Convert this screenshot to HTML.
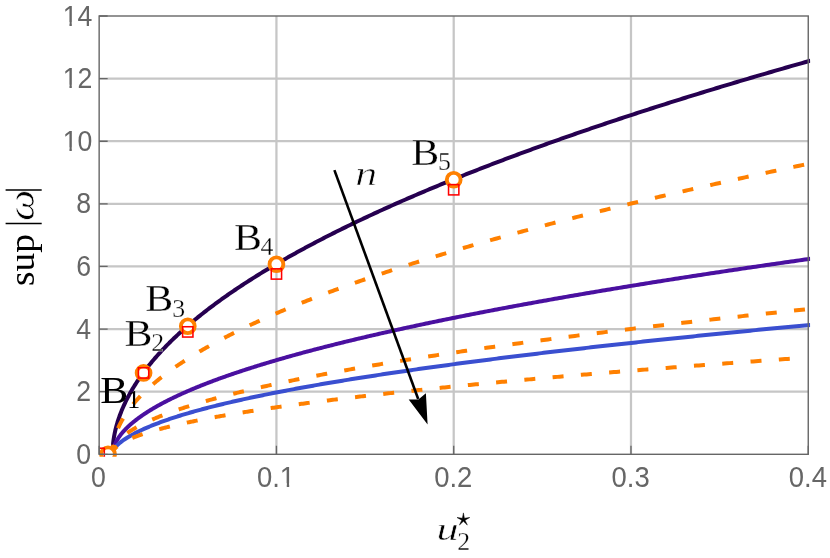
<!DOCTYPE html>
<html><head><meta charset="utf-8"><title>plot</title>
<style>html,body{margin:0;padding:0;background:#fff;}svg{display:block;}text{font-family:"Liberation Sans",sans-serif;}.s{font-family:"Liberation Serif",serif;}</style></head><body>
<svg width="830" height="558" viewBox="0 0 830 558" style="will-change:transform">
<rect width="830" height="558" fill="#fff"/>
<defs><clipPath id="c"><rect x="99.15" y="16.0" width="711.0" height="440.8"/></clipPath></defs>
<path d="M276.43,16.0V454.3M453.70,16.0V454.3M630.98,16.0V454.3" stroke="#c6c6c6" stroke-width="2.25" fill="none"/>
<path d="M99.15,391.69H808.25M99.15,329.07H808.25M99.15,266.46H808.25M99.15,203.84H808.25M99.15,141.23H808.25M99.15,78.61H808.25" stroke="#c6c6c6" stroke-width="2.25" fill="none"/>
<g clip-path="url(#c)" fill="none">
<path d="M112.60,454.30 L112.60,453.51 L112.61,452.72 L112.62,451.94 L112.64,451.15 L112.67,450.36 L112.70,449.57 L112.73,448.79 L112.78,448.00 L112.82,447.21 L112.88,446.42 L112.93,445.63 L113.00,444.85 L113.07,444.06 L113.14,443.27 L113.22,442.48 L113.31,441.70 L113.40,440.96 L113.50,440.23 L113.60,439.50 L113.71,438.77 L113.83,438.03 L113.95,437.29 L114.07,436.55 L114.20,435.81 L114.34,435.06 L114.48,434.32 L114.63,433.57 L114.78,432.82 L114.94,432.07 L115.11,431.32 L115.28,430.56 L115.45,429.81 L115.64,429.05 L115.82,428.29 L116.02,427.53 L116.21,426.77 L116.42,426.01 L116.63,425.25 L116.84,424.49 L117.06,423.72 L117.29,422.96 L117.52,422.19 L117.76,421.43 L118.00,420.66 L118.25,419.89 L118.50,419.12 L118.76,418.35 L119.03,417.58 L119.30,416.81 L119.57,416.03 L119.86,415.26 L120.14,414.49 L120.44,413.71 L120.74,412.93 L121.04,412.16 L121.35,411.38 L121.66,410.60 L121.99,409.82 L122.31,409.04 L122.64,408.26 L122.98,407.48 L123.33,406.70 L123.67,405.92 L124.03,405.13 L124.39,404.35 L124.75,403.57 L125.13,402.78 L125.50,402.00 L125.89,401.21 L126.27,400.42 L126.67,399.64 L127.07,398.85 L127.47,398.06 L127.88,397.28 L128.30,396.49 L128.72,395.70 L129.15,394.91 L129.58,394.12 L130.02,393.33 L130.46,392.54 L130.91,391.75 L131.36,390.96 L131.82,390.17 L132.29,389.37 L132.76,388.58 L133.24,387.79 L133.72,387.00 L134.21,386.21 L134.71,385.41 L135.20,384.62 L135.71,383.83 L136.22,383.03 L136.74,382.24 L137.26,381.45 L137.79,380.65 L138.32,379.86 L138.86,379.07 L139.40,378.27 L139.95,377.48 L140.51,376.68 L141.07,375.89 L141.64,375.09 L142.21,374.30 L142.79,373.51 L143.37,372.71 L143.96,371.92 L144.55,371.12 L145.15,370.33 L145.76,369.53 L146.37,368.74 L146.99,367.94 L147.61,367.15 L148.24,366.35 L148.87,365.56 L149.51,364.76 L150.15,363.97 L150.80,363.17 L151.46,362.38 L152.12,361.58 L152.79,360.79 L153.46,359.99 L154.14,359.20 L154.82,358.41 L155.51,357.61 L156.21,356.82 L156.91,356.02 L157.61,355.23 L158.33,354.43 L159.04,353.64 L159.77,352.84 L160.50,352.05 L161.23,351.26 L161.97,350.46 L162.71,349.67 L163.46,348.87 L164.22,348.08 L164.98,347.29 L165.75,346.49 L166.52,345.70 L167.30,344.90 L168.09,344.11 L168.88,343.32 L169.67,342.52 L170.47,341.73 L171.28,340.94 L172.09,340.14 L172.91,339.35 L173.73,338.56 L174.56,337.76 L175.40,336.97 L176.24,336.18 L177.08,335.38 L177.93,334.59 L178.79,333.80 L179.65,333.01 L180.52,332.21 L181.40,331.42 L182.27,330.63 L183.16,329.84 L184.05,329.04 L184.95,328.25 L185.85,327.46 L186.75,326.67 L187.67,325.87 L188.58,325.08 L189.51,324.29 L190.44,323.50 L191.37,322.70 L192.31,321.91 L193.26,321.12 L194.21,320.33 L195.17,319.54 L196.13,318.74 L197.10,317.95 L198.07,317.16 L199.05,316.37 L200.04,315.58 L201.03,314.79 L202.03,313.99 L203.03,313.20 L204.04,312.41 L205.05,311.62 L206.07,310.83 L207.09,310.04 L208.12,309.24 L209.16,308.45 L210.20,307.66 L211.25,306.87 L212.30,306.08 L213.36,305.29 L214.42,304.50 L215.49,303.71 L216.56,302.91 L217.64,302.12 L218.73,301.33 L219.82,300.54 L220.92,299.75 L222.02,298.96 L223.13,298.17 L224.24,297.38 L225.36,296.59 L226.49,295.80 L227.62,295.01 L228.75,294.21 L229.89,293.42 L231.04,292.63 L232.19,291.84 L233.35,291.05 L234.52,290.26 L235.69,289.47 L236.86,288.68 L238.04,287.89 L239.23,287.10 L240.42,286.31 L241.62,285.52 L242.82,284.73 L244.03,283.94 L245.24,283.15 L246.46,282.36 L247.69,281.57 L248.92,280.78 L250.15,279.99 L251.40,279.20 L252.64,278.41 L253.90,277.62 L255.16,276.82 L256.42,276.03 L257.69,275.24 L258.97,274.45 L260.25,273.66 L261.53,272.87 L262.83,272.08 L264.12,271.29 L265.43,270.50 L266.74,269.71 L268.05,268.92 L269.37,268.13 L270.70,267.34 L272.03,266.55 L273.37,265.76 L274.71,264.97 L276.06,264.18 L277.41,263.39 L278.77,262.61 L280.13,261.82 L281.50,261.03 L282.88,260.24 L284.26,259.45 L285.65,258.66 L287.04,257.87 L288.44,257.08 L289.84,256.29 L291.25,255.50 L292.67,254.71 L294.09,253.92 L295.52,253.13 L296.95,252.34 L298.38,251.55 L299.83,250.76 L301.28,249.97 L302.73,249.18 L304.19,248.39 L305.66,247.60 L307.13,246.81 L308.60,246.02 L310.09,245.23 L311.57,244.44 L313.07,243.65 L314.57,242.86 L316.07,242.07 L317.58,241.29 L319.10,240.50 L320.62,239.71 L322.14,238.92 L323.68,238.13 L325.21,237.34 L326.76,236.55 L328.31,235.76 L329.86,234.97 L331.42,234.18 L332.99,233.39 L334.56,232.60 L336.13,231.81 L337.72,231.02 L339.31,230.23 L340.90,229.45 L342.50,228.66 L344.10,227.87 L345.71,227.08 L347.33,226.29 L348.95,225.50 L350.58,224.71 L352.21,223.92 L353.85,223.13 L355.49,222.34 L357.14,221.55 L358.80,220.76 L360.46,219.98 L362.13,219.19 L363.80,218.40 L365.48,217.61 L367.16,216.82 L368.85,216.03 L370.54,215.24 L372.24,214.45 L373.95,213.66 L375.66,212.87 L377.37,212.08 L379.10,211.30 L380.82,210.51 L382.56,209.72 L384.30,208.93 L386.04,208.14 L387.79,207.35 L389.55,206.56 L391.31,205.77 L393.07,204.98 L394.85,204.19 L396.62,203.41 L398.41,202.62 L400.20,201.83 L401.99,201.04 L403.79,200.25 L405.60,199.46 L407.41,198.67 L409.23,197.88 L411.05,197.09 L412.88,196.30 L414.71,195.52 L416.55,194.73 L418.39,193.94 L420.25,193.15 L422.10,192.36 L423.96,191.57 L425.83,190.78 L427.70,189.99 L429.58,189.21 L431.47,188.42 L433.36,187.63 L435.25,186.84 L437.15,186.05 L439.06,185.26 L440.97,184.47 L442.89,183.68 L444.81,182.89 L446.74,182.11 L448.67,181.32 L450.61,180.53 L452.56,179.74 L454.51,178.95 L456.47,178.16 L458.43,177.37 L460.40,176.58 L462.37,175.80 L464.35,175.01 L466.33,174.22 L468.32,173.43 L470.32,172.64 L472.32,171.85 L474.33,171.06 L476.34,170.28 L478.36,169.49 L480.38,168.70 L482.41,167.91 L484.44,167.12 L486.48,166.33 L488.53,165.54 L490.58,164.75 L492.64,163.97 L494.70,163.18 L496.77,162.39 L498.84,161.60 L500.92,160.81 L503.01,160.02 L505.10,159.23 L507.19,158.45 L509.30,157.66 L511.40,156.87 L513.52,156.08 L515.63,155.29 L517.76,154.50 L519.89,153.71 L522.02,152.93 L524.16,152.14 L526.31,151.35 L528.46,150.56 L530.62,149.77 L532.78,148.98 L534.95,148.19 L537.13,147.41 L539.31,146.62 L541.49,145.83 L543.68,145.04 L545.88,144.25 L548.08,143.46 L550.29,142.67 L552.50,141.89 L554.72,141.10 L556.95,140.31 L559.18,139.52 L561.41,138.73 L563.65,137.94 L565.90,137.15 L568.15,136.37 L570.41,135.58 L572.67,134.79 L574.94,134.00 L577.22,133.21 L579.50,132.42 L581.78,131.64 L584.08,130.85 L586.37,130.06 L588.68,129.27 L590.98,128.48 L593.30,127.69 L595.62,126.90 L597.94,126.12 L600.27,125.33 L602.61,124.54 L604.95,123.75 L607.30,122.96 L609.65,122.17 L612.01,121.39 L614.37,120.60 L616.74,119.81 L619.12,119.02 L621.50,118.23 L623.89,117.44 L626.28,116.65 L628.68,115.87 L631.08,115.08 L633.49,114.29 L635.90,113.50 L638.32,112.71 L640.75,111.92 L643.18,111.14 L645.61,110.35 L648.06,109.56 L650.50,108.77 L652.96,107.98 L655.42,107.19 L657.88,106.41 L660.35,105.62 L662.83,104.83 L665.31,104.04 L667.80,103.25 L670.29,102.46 L672.79,101.68 L675.29,100.89 L677.80,100.10 L680.31,99.31 L682.83,98.52 L685.36,97.73 L687.89,96.95 L690.43,96.16 L692.97,95.37 L695.52,94.58 L698.07,93.79 L700.63,93.00 L703.20,92.22 L705.77,91.43 L708.35,90.64 L710.93,89.85 L713.51,89.06 L716.11,88.27 L718.71,87.49 L721.31,86.70 L723.92,85.91 L726.53,85.12 L729.16,84.33 L731.78,83.54 L734.41,82.76 L737.05,81.97 L739.69,81.18 L742.34,80.39 L745.00,79.60 L747.66,78.81 L750.32,78.03 L752.99,77.24 L755.67,76.45 L758.35,75.66 L761.04,74.87 L763.73,74.09 L766.43,73.30 L769.14,72.51 L771.85,71.72 L774.56,70.93 L777.29,70.14 L780.01,69.36 L782.75,68.57 L785.48,67.78 L788.23,66.99 L790.98,66.20 L793.73,65.41 L796.49,64.63 L799.26,63.84 L802.03,63.05 L804.81,62.26 L807.59,61.47 L810.38,60.69" stroke="#260050" stroke-width="4.0"/>
<path d="M112.97,454.30 L112.97,453.91 L112.98,453.52 L112.99,453.13 L113.01,452.73 L113.04,452.34 L113.07,451.95 L113.10,451.56 L113.15,451.17 L113.19,450.78 L113.25,450.38 L113.31,449.99 L113.37,449.63 L113.44,449.28 L113.52,448.93 L113.60,448.58 L113.68,448.23 L113.77,447.87 L113.87,447.52 L113.98,447.16 L114.08,446.80 L114.20,446.44 L114.32,446.08 L114.44,445.72 L114.58,445.35 L114.71,444.99 L114.85,444.63 L115.00,444.26 L115.16,443.90 L115.31,443.53 L115.48,443.16 L115.65,442.80 L115.82,442.43 L116.01,442.06 L116.19,441.69 L116.39,441.32 L116.58,440.95 L116.79,440.58 L117.00,440.21 L117.21,439.84 L117.43,439.47 L117.66,439.09 L117.89,438.72 L118.13,438.35 L118.37,437.97 L118.62,437.60 L118.87,437.22 L119.13,436.85 L119.40,436.47 L119.67,436.10 L119.94,435.72 L120.22,435.34 L120.51,434.96 L120.80,434.59 L121.10,434.21 L121.41,433.83 L121.72,433.45 L122.03,433.07 L122.35,432.69 L122.68,432.31 L123.01,431.93 L123.35,431.55 L123.69,431.16 L124.04,430.78 L124.39,430.40 L124.75,430.02 L125.12,429.63 L125.49,429.25 L125.87,428.86 L126.25,428.48 L126.64,428.09 L127.03,427.71 L127.43,427.32 L127.83,426.94 L128.24,426.55 L128.66,426.16 L129.08,425.78 L129.51,425.39 L129.94,425.00 L130.38,424.61 L130.82,424.22 L131.27,423.83 L131.73,423.45 L132.19,423.06 L132.65,422.67 L133.12,422.28 L133.60,421.89 L134.08,421.49 L134.57,421.10 L135.06,420.71 L135.56,420.32 L136.07,419.93 L136.58,419.54 L137.10,419.15 L137.62,418.75 L138.14,418.36 L138.68,417.97 L139.22,417.57 L139.76,417.18 L140.31,416.79 L140.86,416.39 L141.43,416.00 L141.99,415.61 L142.56,415.21 L143.14,414.82 L143.72,414.42 L144.31,414.03 L144.91,413.63 L145.51,413.24 L146.11,412.84 L146.72,412.45 L147.34,412.05 L147.96,411.66 L148.59,411.26 L149.22,410.87 L149.86,410.47 L150.51,410.07 L151.16,409.68 L151.81,409.28 L152.47,408.88 L153.14,408.49 L153.81,408.09 L154.49,407.70 L155.17,407.30 L155.86,406.90 L156.56,406.51 L157.26,406.11 L157.96,405.71 L158.67,405.32 L159.39,404.92 L160.11,404.52 L160.84,404.13 L161.57,403.73 L162.31,403.33 L163.06,402.93 L163.81,402.54 L164.57,402.14 L165.33,401.74 L166.09,401.35 L166.87,400.95 L167.65,400.55 L168.43,400.15 L169.22,399.76 L170.01,399.36 L170.81,398.96 L171.62,398.57 L172.43,398.17 L173.25,397.77 L174.07,397.38 L174.90,396.98 L175.74,396.58 L176.57,396.18 L177.42,395.79 L178.27,395.39 L179.13,394.99 L179.99,394.60 L180.86,394.20 L181.73,393.80 L182.61,393.41 L183.49,393.01 L184.38,392.61 L185.28,392.21 L186.18,391.82 L187.09,391.42 L188.00,391.02 L188.92,390.63 L189.84,390.23 L190.77,389.83 L191.70,389.44 L192.64,389.04 L193.59,388.64 L194.54,388.25 L195.50,387.85 L196.46,387.46 L197.43,387.06 L198.40,386.66 L199.38,386.27 L200.36,385.87 L201.36,385.47 L202.35,385.08 L203.35,384.68 L204.36,384.29 L205.37,383.89 L206.39,383.49 L207.41,383.10 L208.44,382.70 L209.48,382.30 L210.52,381.91 L211.57,381.51 L212.62,381.12 L213.67,380.72 L214.74,380.33 L215.81,379.93 L216.88,379.53 L217.96,379.14 L219.04,378.74 L220.13,378.35 L221.23,377.95 L222.33,377.56 L223.44,377.16 L224.55,376.76 L225.67,376.37 L226.80,375.97 L227.93,375.58 L229.06,375.18 L230.20,374.79 L231.35,374.39 L232.50,374.00 L233.66,373.60 L234.82,373.21 L235.99,372.81 L237.17,372.42 L238.35,372.02 L239.53,371.63 L240.72,371.23 L241.92,370.84 L243.12,370.44 L244.33,370.05 L245.54,369.65 L246.76,369.26 L247.99,368.86 L249.22,368.47 L250.45,368.07 L251.69,367.68 L252.94,367.28 L254.19,366.89 L255.45,366.49 L256.72,366.10 L257.98,365.70 L259.26,365.31 L260.54,364.91 L261.83,364.52 L263.12,364.13 L264.41,363.73 L265.72,363.34 L267.03,362.94 L268.34,362.55 L269.66,362.15 L270.98,361.76 L272.32,361.36 L273.65,360.97 L274.99,360.58 L276.34,360.18 L277.69,359.79 L279.05,359.39 L280.42,359.00 L281.79,358.60 L283.16,358.21 L284.54,357.82 L285.93,357.42 L287.32,357.03 L288.72,356.63 L290.12,356.24 L291.53,355.85 L292.94,355.45 L294.36,355.06 L295.79,354.66 L297.22,354.27 L298.66,353.88 L300.10,353.48 L301.55,353.09 L303.00,352.69 L304.46,352.30 L305.92,351.91 L307.39,351.51 L308.87,351.12 L310.35,350.72 L311.84,350.33 L313.33,349.94 L314.83,349.54 L316.33,349.15 L317.84,348.76 L319.36,348.36 L320.88,347.97 L322.40,347.57 L323.93,347.18 L325.47,346.79 L327.01,346.39 L328.56,346.00 L330.12,345.61 L331.68,345.21 L333.24,344.82 L334.81,344.43 L336.39,344.03 L337.97,343.64 L339.56,343.24 L341.15,342.85 L342.75,342.46 L344.35,342.06 L345.96,341.67 L347.58,341.28 L349.20,340.88 L350.82,340.49 L352.46,340.10 L354.09,339.70 L355.74,339.31 L357.39,338.92 L359.04,338.52 L360.70,338.13 L362.36,337.74 L364.04,337.34 L365.71,336.95 L367.39,336.56 L369.08,336.16 L370.78,335.77 L372.47,335.38 L374.18,334.98 L375.89,334.59 L377.60,334.20 L379.33,333.80 L381.05,333.41 L382.78,333.02 L384.52,332.62 L386.27,332.23 L388.02,331.84 L389.77,331.44 L391.53,331.05 L393.30,330.66 L395.07,330.26 L396.84,329.87 L398.63,329.48 L400.42,329.09 L402.21,328.69 L404.01,328.30 L405.81,327.91 L407.62,327.51 L409.44,327.12 L411.26,326.73 L413.09,326.33 L414.92,325.94 L416.76,325.55 L418.60,325.15 L420.45,324.76 L422.31,324.37 L424.17,323.98 L426.04,323.58 L427.91,323.19 L429.78,322.80 L431.67,322.40 L433.56,322.01 L435.45,321.62 L437.35,321.22 L439.26,320.83 L441.17,320.44 L443.08,320.05 L445.00,319.65 L446.93,319.26 L448.87,318.87 L450.80,318.47 L452.75,318.08 L454.70,317.69 L456.65,317.30 L458.62,316.90 L460.58,316.51 L462.55,316.12 L464.53,315.72 L466.52,315.33 L468.50,314.94 L470.50,314.55 L472.50,314.15 L474.51,313.76 L476.52,313.37 L478.53,312.97 L480.56,312.58 L482.58,312.19 L484.62,311.80 L486.66,311.40 L488.70,311.01 L490.75,310.62 L492.81,310.22 L494.87,309.83 L496.94,309.44 L499.01,309.05 L501.09,308.65 L503.17,308.26 L505.26,307.87 L507.36,307.48 L509.46,307.08 L511.56,306.69 L513.67,306.30 L515.79,305.90 L517.91,305.51 L520.04,305.12 L522.18,304.73 L524.32,304.33 L526.46,303.94 L528.61,303.55 L530.77,303.16 L532.93,302.76 L535.10,302.37 L537.27,301.98 L539.45,301.59 L541.63,301.19 L543.82,300.80 L546.02,300.41 L548.22,300.02 L550.43,299.62 L552.64,299.23 L554.86,298.84 L557.08,298.44 L559.31,298.05 L561.54,297.66 L563.78,297.27 L566.03,296.87 L568.28,296.48 L570.54,296.09 L572.80,295.70 L575.07,295.30 L577.34,294.91 L579.62,294.52 L581.91,294.13 L584.20,293.73 L586.49,293.34 L588.79,292.95 L591.10,292.56 L593.41,292.16 L595.73,291.77 L598.06,291.38 L600.38,290.99 L602.72,290.59 L605.06,290.20 L607.41,289.81 L609.76,289.42 L612.12,289.02 L614.48,288.63 L616.85,288.24 L619.22,287.85 L621.60,287.45 L623.98,287.06 L626.38,286.67 L628.77,286.28 L631.17,285.88 L633.58,285.49 L635.99,285.10 L638.41,284.71 L640.84,284.31 L643.27,283.92 L645.70,283.53 L648.14,283.14 L650.59,282.74 L653.04,282.35 L655.50,281.96 L657.96,281.57 L660.43,281.18 L662.91,280.78 L665.39,280.39 L667.87,280.00 L670.36,279.61 L672.86,279.21 L675.36,278.82 L677.87,278.43 L680.38,278.04 L682.90,277.64 L685.43,277.25 L687.96,276.86 L690.49,276.47 L693.03,276.07 L695.58,275.68 L698.13,275.29 L700.69,274.90 L703.26,274.50 L705.82,274.11 L708.40,273.72 L710.98,273.33 L713.57,272.94 L716.16,272.54 L718.75,272.15 L721.36,271.76 L723.97,271.37 L726.58,270.97 L729.20,270.58 L731.82,270.19 L734.45,269.80 L737.09,269.40 L739.73,269.01 L742.38,268.62 L745.03,268.23 L747.69,267.84 L750.36,267.44 L753.03,267.05 L755.70,266.66 L758.38,266.27 L761.07,265.87 L763.76,265.48 L766.46,265.09 L769.16,264.70 L771.87,264.31 L774.58,263.91 L777.30,263.52 L780.03,263.13 L782.76,262.74 L785.50,262.34 L788.24,261.95 L790.99,261.56 L793.74,261.17 L796.50,260.77 L799.26,260.38 L802.03,259.99 L804.81,259.60 L807.59,259.21 L810.38,258.81" stroke="#4a10a0" stroke-width="4.0"/>
<path d="M112.65,454.30 L112.65,454.04 L112.66,453.78 L112.68,453.52 L112.70,453.26 L112.72,453.00 L112.75,452.74 L112.79,452.48 L112.83,452.22 L112.88,451.96 L112.93,451.70 L112.99,451.44 L113.05,451.18 L113.12,450.92 L113.20,450.66 L113.28,450.40 L113.37,450.17 L113.46,450.00 L113.56,449.81 L113.66,449.63 L113.77,449.44 L113.88,449.25 L114.00,449.05 L114.13,448.86 L114.26,448.66 L114.40,448.46 L114.54,448.26 L114.69,448.06 L114.84,447.85 L115.00,447.65 L115.16,447.44 L115.33,447.23 L115.51,447.02 L115.69,446.80 L115.88,446.59 L116.07,446.38 L116.27,446.16 L116.47,445.94 L116.68,445.73 L116.90,445.51 L117.12,445.29 L117.34,445.06 L117.57,444.84 L117.81,444.62 L118.05,444.39 L118.30,444.17 L118.56,443.94 L118.82,443.71 L119.08,443.48 L119.35,443.25 L119.63,443.02 L119.91,442.79 L120.20,442.56 L120.49,442.33 L120.79,442.09 L121.09,441.86 L121.40,441.62 L121.72,441.38 L122.04,441.14 L122.37,440.90 L122.70,440.67 L123.04,440.42 L123.38,440.18 L123.73,439.94 L124.08,439.70 L124.44,439.45 L124.81,439.21 L125.18,438.96 L125.56,438.72 L125.94,438.47 L126.33,438.22 L126.72,437.97 L127.12,437.72 L127.52,437.47 L127.93,437.22 L128.35,436.97 L128.77,436.72 L129.20,436.47 L129.63,436.21 L130.07,435.96 L130.51,435.71 L130.96,435.45 L131.42,435.20 L131.88,434.94 L132.34,434.68 L132.82,434.43 L133.29,434.17 L133.78,433.91 L134.26,433.65 L134.76,433.39 L135.26,433.13 L135.76,432.87 L136.27,432.61 L136.79,432.35 L137.31,432.09 L137.84,431.83 L138.37,431.56 L138.91,431.30 L139.46,431.04 L140.01,430.77 L140.56,430.51 L141.12,430.25 L141.69,429.98 L142.26,429.72 L142.84,429.45 L143.42,429.19 L144.01,428.92 L144.60,428.65 L145.20,428.39 L145.81,428.12 L146.42,427.86 L147.04,427.59 L147.66,427.32 L148.29,427.05 L148.92,426.79 L149.56,426.52 L150.21,426.25 L150.86,425.98 L151.51,425.71 L152.17,425.45 L152.84,425.18 L153.51,424.91 L154.19,424.64 L154.88,424.37 L155.56,424.10 L156.26,423.83 L156.96,423.56 L157.67,423.30 L158.38,423.03 L159.09,422.76 L159.82,422.49 L160.55,422.22 L161.28,421.95 L162.02,421.68 L162.76,421.41 L163.52,421.14 L164.27,420.87 L165.03,420.60 L165.80,420.33 L166.57,420.06 L167.35,419.79 L168.14,419.52 L168.93,419.25 L169.72,418.98 L170.52,418.71 L171.33,418.44 L172.14,418.17 L172.96,417.90 L173.78,417.63 L174.61,417.36 L175.45,417.09 L176.29,416.82 L177.13,416.55 L177.98,416.28 L178.84,416.02 L179.70,415.75 L180.57,415.48 L181.44,415.21 L182.32,414.94 L183.21,414.67 L184.10,414.40 L184.99,414.13 L185.90,413.86 L186.80,413.59 L187.72,413.32 L188.63,413.05 L189.56,412.79 L190.49,412.52 L191.42,412.25 L192.36,411.98 L193.31,411.71 L194.26,411.44 L195.22,411.17 L196.18,410.90 L197.15,410.64 L198.12,410.37 L199.10,410.10 L200.09,409.83 L201.08,409.56 L202.07,409.30 L203.08,409.03 L204.08,408.76 L205.10,408.49 L206.12,408.22 L207.14,407.96 L208.17,407.69 L209.21,407.42 L210.25,407.15 L211.29,406.89 L212.35,406.62 L213.40,406.35 L214.47,406.08 L215.54,405.82 L216.61,405.55 L217.69,405.28 L218.78,405.02 L219.87,404.75 L220.96,404.48 L222.07,404.21 L223.17,403.95 L224.29,403.68 L225.41,403.41 L226.53,403.15 L227.66,402.88 L228.80,402.62 L229.94,402.35 L231.09,402.08 L232.24,401.82 L233.40,401.55 L234.56,401.28 L235.73,401.02 L236.91,400.75 L238.09,400.49 L239.27,400.22 L240.46,399.95 L241.66,399.69 L242.86,399.42 L244.07,399.16 L245.29,398.89 L246.51,398.62 L247.73,398.36 L248.96,398.09 L250.20,397.83 L251.44,397.56 L252.69,397.30 L253.94,397.03 L255.20,396.77 L256.46,396.50 L257.73,396.24 L259.01,395.97 L260.29,395.71 L261.58,395.44 L262.87,395.18 L264.17,394.91 L265.47,394.65 L266.78,394.38 L268.09,394.12 L269.41,393.85 L270.74,393.59 L272.07,393.32 L273.41,393.06 L274.75,392.79 L276.10,392.53 L277.45,392.26 L278.81,392.00 L280.18,391.73 L281.55,391.47 L282.92,391.21 L284.30,390.94 L285.69,390.68 L287.08,390.41 L288.48,390.15 L289.89,389.88 L291.29,389.62 L292.71,389.36 L294.13,389.09 L295.56,388.83 L296.99,388.56 L298.43,388.30 L299.87,388.04 L301.32,387.77 L302.77,387.51 L304.23,387.24 L305.70,386.98 L307.17,386.72 L308.64,386.45 L310.12,386.19 L311.61,385.93 L313.11,385.66 L314.60,385.40 L316.11,385.13 L317.62,384.87 L319.13,384.61 L320.65,384.34 L322.18,384.08 L323.71,383.82 L325.25,383.55 L326.79,383.29 L328.34,383.03 L329.90,382.76 L331.46,382.50 L333.02,382.24 L334.60,381.97 L336.17,381.71 L337.75,381.45 L339.34,381.18 L340.94,380.92 L342.54,380.66 L344.14,380.39 L345.75,380.13 L347.37,379.87 L348.99,379.60 L350.62,379.34 L352.25,379.08 L353.89,378.81 L355.53,378.55 L357.18,378.29 L358.83,378.03 L360.49,377.76 L362.16,377.50 L363.83,377.24 L365.51,376.97 L367.19,376.71 L368.88,376.45 L370.58,376.19 L372.28,375.92 L373.98,375.66 L375.69,375.40 L377.41,375.13 L379.13,374.87 L380.86,374.61 L382.59,374.35 L384.33,374.08 L386.07,373.82 L387.82,373.56 L389.58,373.30 L391.34,373.03 L393.11,372.77 L394.88,372.51 L396.66,372.25 L398.44,371.98 L400.23,371.72 L402.02,371.46 L403.82,371.20 L405.63,370.93 L407.44,370.67 L409.26,370.41 L411.08,370.15 L412.91,369.88 L414.74,369.62 L416.58,369.36 L418.43,369.10 L420.28,368.83 L422.13,368.57 L423.99,368.31 L425.86,368.05 L427.73,367.78 L429.61,367.52 L431.50,367.26 L433.38,367.00 L435.28,366.74 L437.18,366.47 L439.09,366.21 L441.00,365.95 L442.92,365.69 L444.84,365.42 L446.77,365.16 L448.70,364.90 L450.64,364.64 L452.59,364.38 L454.54,364.11 L456.49,363.85 L458.46,363.59 L460.42,363.33 L462.40,363.07 L464.38,362.80 L466.36,362.54 L468.35,362.28 L470.34,362.02 L472.35,361.76 L474.35,361.49 L476.36,361.23 L478.38,360.97 L480.41,360.71 L482.44,360.45 L484.47,360.18 L486.51,359.92 L488.56,359.66 L490.61,359.40 L492.66,359.14 L494.73,358.87 L496.79,358.61 L498.87,358.35 L500.95,358.09 L503.03,357.83 L505.12,357.56 L507.22,357.30 L509.32,357.04 L511.43,356.78 L513.54,356.52 L515.66,356.26 L517.78,355.99 L519.91,355.73 L522.05,355.47 L524.19,355.21 L526.33,354.95 L528.48,354.69 L530.64,354.42 L532.81,354.16 L534.97,353.90 L537.15,353.64 L539.33,353.38 L541.51,353.12 L543.70,352.85 L545.90,352.59 L548.10,352.33 L550.31,352.07 L552.52,351.81 L554.74,351.55 L556.97,351.28 L559.20,351.02 L561.43,350.76 L563.67,350.50 L565.92,350.24 L568.17,349.98 L570.43,349.72 L572.69,349.45 L574.96,349.19 L577.24,348.93 L579.52,348.67 L581.80,348.41 L584.09,348.15 L586.39,347.88 L588.69,347.62 L591.00,347.36 L593.31,347.10 L595.63,346.84 L597.96,346.58 L600.29,346.32 L602.63,346.05 L604.97,345.79 L607.31,345.53 L609.67,345.27 L612.03,345.01 L614.39,344.75 L616.76,344.49 L619.13,344.22 L621.51,343.96 L623.90,343.70 L626.29,343.44 L628.69,343.18 L631.09,342.92 L633.50,342.66 L635.92,342.40 L638.33,342.13 L640.76,341.87 L643.19,341.61 L645.63,341.35 L648.07,341.09 L650.52,340.83 L652.97,340.57 L655.43,340.31 L657.89,340.04 L660.36,339.78 L662.84,339.52 L665.32,339.26 L667.81,339.00 L670.30,338.74 L672.80,338.48 L675.30,338.22 L677.81,337.95 L680.32,337.69 L682.84,337.43 L685.37,337.17 L687.90,336.91 L690.44,336.65 L692.98,336.39 L695.53,336.13 L698.08,335.86 L700.64,335.60 L703.21,335.34 L705.78,335.08 L708.35,334.82 L710.93,334.56 L713.52,334.30 L716.11,334.04 L718.71,333.78 L721.32,333.51 L723.93,333.25 L726.54,332.99 L729.16,332.73 L731.79,332.47 L734.42,332.21 L737.06,331.95 L739.70,331.69 L742.35,331.43 L745.00,331.16 L747.66,330.90 L750.33,330.64 L753.00,330.38 L755.68,330.12 L758.36,329.86 L761.05,329.60 L763.74,329.34 L766.44,329.08 L769.14,328.82 L771.85,328.55 L774.57,328.29 L777.29,328.03 L780.02,327.77 L782.75,327.51 L785.49,327.25 L788.23,326.99 L790.98,326.73 L793.73,326.47 L796.49,326.21 L799.26,325.94 L802.03,325.68 L804.81,325.42 L807.59,325.16 L810.38,324.90" stroke="#3a4fd0" stroke-width="4.0"/>
<path d="M112.49,454.30 L112.49,453.72 L112.50,453.14 L112.51,452.55 L112.53,451.97 L112.56,451.39 L112.59,450.81 L112.62,450.23 L112.67,449.65 L112.71,449.06 L112.77,448.48 L112.83,447.90 L112.89,447.32 L112.96,446.74 L113.04,446.16 L113.12,445.57 L113.20,444.99 L113.29,444.41 L113.39,443.83 L113.50,443.25 L113.60,442.66 L113.72,442.08 L113.84,441.50 L113.96,440.92 L114.10,440.34 L114.23,439.76 L114.38,439.17 L114.52,438.59 L114.68,438.01 L114.84,437.43 L115.00,436.85 L115.17,436.26 L115.35,435.68 L115.53,435.10 L115.72,434.52 L115.91,433.94 L116.11,433.36 L116.31,432.77 L116.52,432.19 L116.73,431.61 L116.95,431.03 L117.18,430.45 L117.41,429.87 L117.65,429.28 L117.89,428.70 L118.14,428.12 L118.39,427.54 L118.65,426.96 L118.92,426.37 L119.19,425.79 L119.47,425.21 L119.75,424.63 L120.04,424.05 L120.33,423.47 L120.63,422.88 L120.93,422.30 L121.24,421.72 L121.56,421.14 L121.88,420.56 L122.21,419.97 L122.54,419.39 L122.88,418.81 L123.22,418.23 L123.57,417.65 L123.92,417.07 L124.28,416.48 L124.65,415.90 L125.02,415.32 L125.40,414.74 L125.78,414.16 L126.17,413.58 L126.56,412.99 L126.96,412.41 L127.36,411.83 L127.77,411.25 L128.19,410.67 L128.61,410.08 L129.04,409.50 L129.47,408.92 L129.91,408.34 L130.35,407.76 L130.80,407.18 L131.26,406.59 L131.72,406.01 L132.19,405.43 L132.66,404.85 L133.13,404.27 L133.62,403.68 L134.11,403.10 L134.60,402.52 L135.10,401.94 L135.60,401.36 L136.12,400.78 L136.63,400.19 L137.15,399.61 L137.68,399.03 L138.22,398.45 L138.75,397.87 L139.30,397.29 L139.85,396.70 L140.40,396.12 L140.96,395.54 L141.53,394.96 L142.10,394.38 L142.68,393.79 L143.26,393.21 L143.85,392.63 L144.45,392.05 L145.05,391.47 L145.65,390.89 L146.27,390.30 L146.88,389.72 L147.51,389.14 L148.13,388.56 L148.77,387.98 L149.41,387.39 L150.05,386.81 L150.70,386.23 L151.36,385.65 L152.02,385.07 L152.69,384.49 L153.36,383.90 L154.04,383.32 L154.72,382.74 L155.41,382.16 L156.11,381.58 L156.81,381.00 L157.51,380.41 L158.22,379.83 L158.94,379.25 L159.67,378.67 L160.39,378.09 L161.13,377.50 L161.87,376.92 L162.61,376.34 L163.36,375.76 L164.12,375.18 L164.88,374.60 L165.65,374.01 L166.42,373.43 L167.20,372.85 L167.99,372.27 L168.78,371.69 L169.57,371.10 L170.37,370.52 L171.18,369.94 L171.99,369.36 L172.81,368.78 L173.63,368.20 L174.46,367.61 L175.30,367.03 L176.14,366.45 L176.98,365.87 L177.84,365.29 L178.69,364.71 L179.56,364.12 L180.42,363.54 L181.30,362.96 L182.18,362.38 L183.06,361.80 L183.95,361.21 L184.85,360.63 L185.75,360.05 L186.66,359.47 L187.57,358.89 L188.49,358.31 L189.41,357.72 L190.34,357.14 L191.28,356.56 L192.22,355.98 L193.16,355.40 L194.12,354.81 L195.07,354.23 L196.04,353.65 L197.01,353.07 L197.98,352.49 L198.96,351.91 L199.94,351.32 L200.94,350.74 L201.93,350.16 L202.93,349.58 L203.94,349.00 L204.96,348.42 L205.97,347.83 L207.00,347.25 L208.03,346.67 L209.06,346.09 L210.11,345.51 L211.15,344.92 L212.21,344.34 L213.26,343.76 L214.33,343.18 L215.40,342.60 L216.47,342.02 L217.55,341.43 L218.64,340.85 L219.73,340.27 L220.83,339.69 L221.93,339.11 L223.04,338.52 L224.15,337.94 L225.27,337.36 L226.39,336.78 L227.53,336.20 L228.66,335.62 L229.80,335.03 L230.95,334.45 L232.10,333.87 L233.26,333.29 L234.43,332.71 L235.60,332.13 L236.77,331.54 L237.95,330.96 L239.14,330.38 L240.33,329.80 L241.53,329.22 L242.73,328.63 L243.94,328.05 L245.15,327.47 L246.37,326.89 L247.60,326.31 L248.83,325.73 L250.07,325.14 L251.31,324.56 L252.56,323.98 L253.81,323.40 L255.07,322.82 L256.33,322.23 L257.60,321.65 L258.88,321.07 L260.16,320.49 L261.45,319.91 L262.74,319.33 L264.04,318.74 L265.34,318.16 L266.65,317.58 L267.97,317.00 L269.29,316.42 L270.61,315.84 L271.94,315.25 L273.28,314.67 L274.62,314.09 L275.97,313.51 L277.33,312.93 L278.69,312.34 L280.05,311.76 L281.42,311.18 L282.80,310.60 L284.18,310.02 L285.57,309.44 L286.96,308.85 L288.36,308.27 L289.76,307.69 L291.17,307.11 L292.59,306.53 L294.01,305.94 L295.44,305.36 L296.87,304.78 L298.31,304.20 L299.75,303.62 L301.20,303.04 L302.65,302.45 L304.11,301.87 L305.58,301.29 L307.05,300.71 L308.53,300.13 L310.01,299.55 L311.50,298.96 L312.99,298.38 L314.49,297.80 L315.99,297.22 L317.50,296.64 L319.02,296.05 L320.54,295.47 L322.07,294.89 L323.60,294.31 L325.14,293.73 L326.68,293.15 L328.23,292.56 L329.79,291.98 L331.35,291.40 L332.91,290.82 L334.48,290.24 L336.06,289.65 L337.64,289.07 L339.23,288.49 L340.83,287.91 L342.43,287.33 L344.03,286.75 L345.64,286.16 L347.26,285.58 L348.88,285.00 L350.51,284.42 L352.14,283.84 L353.78,283.26 L355.42,282.67 L357.07,282.09 L358.73,281.51 L360.39,280.93 L362.06,280.35 L363.73,279.76 L365.41,279.18 L367.09,278.60 L368.78,278.02 L370.47,277.44 L372.17,276.86 L373.88,276.27 L375.59,275.69 L377.31,275.11 L379.03,274.53 L380.76,273.95 L382.49,273.36 L384.23,272.78 L385.97,272.20 L387.72,271.62 L389.48,271.04 L391.24,270.46 L393.01,269.87 L394.78,269.29 L396.56,268.71 L398.34,268.13 L400.13,267.55 L401.93,266.97 L403.73,266.38 L405.53,265.80 L407.35,265.22 L409.16,264.64 L410.99,264.06 L412.81,263.47 L414.65,262.89 L416.49,262.31 L418.33,261.73 L420.18,261.15 L422.04,260.57 L423.90,259.98 L425.77,259.40 L427.64,258.82 L429.52,258.24 L431.41,257.66 L433.30,257.08 L435.19,256.49 L437.09,255.91 L439.00,255.33 L440.91,254.75 L442.83,254.17 L444.75,253.58 L446.68,253.00 L448.62,252.42 L450.56,251.84 L452.50,251.26 L454.45,250.68 L456.41,250.09 L458.37,249.51 L460.34,248.93 L462.31,248.35 L464.29,247.77 L466.28,247.18 L468.27,246.60 L470.27,246.02 L472.27,245.44 L474.27,244.86 L476.29,244.28 L478.30,243.69 L480.33,243.11 L482.36,242.53 L484.39,241.95 L486.43,241.37 L488.48,240.79 L490.53,240.20 L492.59,239.62 L494.65,239.04 L496.72,238.46 L498.79,237.88 L500.87,237.29 L502.96,236.71 L505.05,236.13 L507.15,235.55 L509.25,234.97 L511.36,234.39 L513.47,233.80 L515.59,233.22 L517.71,232.64 L519.84,232.06 L521.98,231.48 L524.12,230.89 L526.27,230.31 L528.42,229.73 L530.58,229.15 L532.74,228.57 L534.91,227.99 L537.08,227.40 L539.26,226.82 L541.45,226.24 L543.64,225.66 L545.84,225.08 L548.04,224.50 L550.25,223.91 L552.46,223.33 L554.68,222.75 L556.91,222.17 L559.14,221.59 L561.37,221.00 L563.61,220.42 L565.86,219.84 L568.11,219.26 L570.37,218.68 L572.64,218.10 L574.91,217.51 L577.18,216.93 L579.46,216.35 L581.75,215.77 L584.04,215.19 L586.34,214.60 L588.64,214.02 L590.95,213.44 L593.26,212.86 L595.58,212.28 L597.91,211.70 L600.24,211.11 L602.58,210.53 L604.92,209.95 L607.27,209.37 L609.62,208.79 L611.98,208.21 L614.34,207.62 L616.71,207.04 L619.09,206.46 L621.47,205.88 L623.86,205.30 L626.25,204.71 L628.65,204.13 L631.05,203.55 L633.46,202.97 L635.87,202.39 L638.29,201.81 L640.72,201.22 L643.15,200.64 L645.59,200.06 L648.03,199.48 L650.48,198.90 L652.93,198.31 L655.39,197.73 L657.86,197.15 L660.33,196.57 L662.80,195.99 L665.29,195.41 L667.77,194.82 L670.27,194.24 L672.76,193.66 L675.27,193.08 L677.78,192.50 L680.29,191.92 L682.81,191.33 L685.34,190.75 L687.87,190.17 L690.41,189.59 L692.95,189.01 L695.50,188.42 L698.06,187.84 L700.62,187.26 L703.18,186.68 L705.75,186.10 L708.33,185.52 L710.91,184.93 L713.50,184.35 L716.09,183.77 L718.69,183.19 L721.30,182.61 L723.91,182.02 L726.52,181.44 L729.14,180.86 L731.77,180.28 L734.40,179.70 L737.04,179.12 L739.68,178.53 L742.33,177.95 L744.99,177.37 L747.65,176.79 L750.31,176.21 L752.99,175.63 L755.66,175.04 L758.35,174.46 L761.03,173.88 L763.73,173.30 L766.43,172.72 L769.13,172.13 L771.84,171.55 L774.56,170.97 L777.28,170.39 L780.01,169.81 L782.74,169.23 L785.48,168.64 L788.22,168.06 L790.97,167.48 L793.73,166.90 L796.49,166.32 L799.26,165.73 L802.03,165.15 L804.81,164.57 L807.59,163.99 L810.38,163.41" stroke="#ff8000" stroke-width="4.0" stroke-dasharray="11 17.365" stroke-dashoffset="1.5"/>
<path d="M112.49,454.30 L112.49,454.01 L112.50,453.72 L112.51,453.43 L112.53,453.14 L112.56,452.85 L112.59,452.55 L112.62,452.26 L112.67,451.97 L112.71,451.68 L112.77,451.39 L112.83,451.10 L112.89,450.81 L112.96,450.52 L113.04,450.23 L113.12,449.94 L113.20,449.65 L113.29,449.35 L113.39,449.06 L113.50,448.77 L113.60,448.48 L113.72,448.19 L113.84,447.90 L113.96,447.61 L114.10,447.32 L114.23,447.03 L114.38,446.74 L114.52,446.45 L114.68,446.16 L114.84,445.86 L115.00,445.57 L115.17,445.28 L115.35,444.99 L115.53,444.70 L115.72,444.41 L115.91,444.12 L116.11,443.83 L116.31,443.54 L116.52,443.25 L116.73,442.96 L116.95,442.66 L117.18,442.37 L117.41,442.08 L117.65,441.79 L117.89,441.50 L118.14,441.21 L118.39,440.92 L118.65,440.63 L118.92,440.34 L119.19,440.05 L119.47,439.76 L119.75,439.46 L120.04,439.17 L120.33,438.88 L120.63,438.59 L120.93,438.30 L121.24,438.01 L121.56,437.72 L121.88,437.43 L122.21,437.14 L122.54,436.85 L122.88,436.56 L123.22,436.26 L123.57,435.97 L123.92,435.68 L124.28,435.39 L124.65,435.10 L125.02,434.81 L125.40,434.52 L125.78,434.23 L126.17,433.94 L126.56,433.65 L126.96,433.36 L127.36,433.06 L127.77,432.77 L128.19,432.48 L128.61,432.19 L129.04,431.90 L129.47,431.61 L129.91,431.32 L130.35,431.03 L130.80,430.74 L131.26,430.45 L131.72,430.16 L132.19,429.87 L132.66,429.57 L133.13,429.28 L133.62,428.99 L134.11,428.70 L134.60,428.41 L135.10,428.12 L135.60,427.83 L136.12,427.54 L136.63,427.25 L137.15,426.96 L137.68,426.67 L138.22,426.37 L138.75,426.08 L139.30,425.79 L139.85,425.50 L140.40,425.21 L140.96,424.92 L141.53,424.63 L142.10,424.34 L142.68,424.05 L143.26,423.76 L143.85,423.47 L144.45,423.17 L145.05,422.88 L145.65,422.59 L146.27,422.30 L146.88,422.01 L147.51,421.72 L148.13,421.43 L148.77,421.14 L149.41,420.85 L150.05,420.56 L150.70,420.27 L151.36,419.97 L152.02,419.68 L152.69,419.39 L153.36,419.10 L154.04,418.81 L154.72,418.52 L155.41,418.23 L156.11,417.94 L156.81,417.65 L157.51,417.36 L158.22,417.07 L158.94,416.77 L159.67,416.48 L160.39,416.19 L161.13,415.90 L161.87,415.61 L162.61,415.32 L163.36,415.03 L164.12,414.74 L164.88,414.45 L165.65,414.16 L166.42,413.87 L167.20,413.58 L167.99,413.28 L168.78,412.99 L169.57,412.70 L170.37,412.41 L171.18,412.12 L171.99,411.83 L172.81,411.54 L173.63,411.25 L174.46,410.96 L175.30,410.67 L176.14,410.38 L176.98,410.08 L177.84,409.79 L178.69,409.50 L179.56,409.21 L180.42,408.92 L181.30,408.63 L182.18,408.34 L183.06,408.05 L183.95,407.76 L184.85,407.47 L185.75,407.18 L186.66,406.88 L187.57,406.59 L188.49,406.30 L189.41,406.01 L190.34,405.72 L191.28,405.43 L192.22,405.14 L193.16,404.85 L194.12,404.56 L195.07,404.27 L196.04,403.98 L197.01,403.68 L197.98,403.39 L198.96,403.10 L199.94,402.81 L200.94,402.52 L201.93,402.23 L202.93,401.94 L203.94,401.65 L204.96,401.36 L205.97,401.07 L207.00,400.78 L208.03,400.48 L209.06,400.19 L210.11,399.90 L211.15,399.61 L212.21,399.32 L213.26,399.03 L214.33,398.74 L215.40,398.45 L216.47,398.16 L217.55,397.87 L218.64,397.58 L219.73,397.29 L220.83,396.99 L221.93,396.70 L223.04,396.41 L224.15,396.12 L225.27,395.83 L226.39,395.54 L227.53,395.25 L228.66,394.96 L229.80,394.67 L230.95,394.38 L232.10,394.09 L233.26,393.79 L234.43,393.50 L235.60,393.21 L236.77,392.92 L237.95,392.63 L239.14,392.34 L240.33,392.05 L241.53,391.76 L242.73,391.47 L243.94,391.18 L245.15,390.89 L246.37,390.59 L247.60,390.30 L248.83,390.01 L250.07,389.72 L251.31,389.43 L252.56,389.14 L253.81,388.85 L255.07,388.56 L256.33,388.27 L257.60,387.98 L258.88,387.69 L260.16,387.39 L261.45,387.10 L262.74,386.81 L264.04,386.52 L265.34,386.23 L266.65,385.94 L267.97,385.65 L269.29,385.36 L270.61,385.07 L271.94,384.78 L273.28,384.49 L274.62,384.19 L275.97,383.90 L277.33,383.61 L278.69,383.32 L280.05,383.03 L281.42,382.74 L282.80,382.45 L284.18,382.16 L285.57,381.87 L286.96,381.58 L288.36,381.29 L289.76,381.00 L291.17,380.70 L292.59,380.41 L294.01,380.12 L295.44,379.83 L296.87,379.54 L298.31,379.25 L299.75,378.96 L301.20,378.67 L302.65,378.38 L304.11,378.09 L305.58,377.80 L307.05,377.50 L308.53,377.21 L310.01,376.92 L311.50,376.63 L312.99,376.34 L314.49,376.05 L315.99,375.76 L317.50,375.47 L319.02,375.18 L320.54,374.89 L322.07,374.60 L323.60,374.30 L325.14,374.01 L326.68,373.72 L328.23,373.43 L329.79,373.14 L331.35,372.85 L332.91,372.56 L334.48,372.27 L336.06,371.98 L337.64,371.69 L339.23,371.40 L340.83,371.10 L342.43,370.81 L344.03,370.52 L345.64,370.23 L347.26,369.94 L348.88,369.65 L350.51,369.36 L352.14,369.07 L353.78,368.78 L355.42,368.49 L357.07,368.20 L358.73,367.90 L360.39,367.61 L362.06,367.32 L363.73,367.03 L365.41,366.74 L367.09,366.45 L368.78,366.16 L370.47,365.87 L372.17,365.58 L373.88,365.29 L375.59,365.00 L377.31,364.71 L379.03,364.41 L380.76,364.12 L382.49,363.83 L384.23,363.54 L385.97,363.25 L387.72,362.96 L389.48,362.67 L391.24,362.38 L393.01,362.09 L394.78,361.80 L396.56,361.51 L398.34,361.21 L400.13,360.92 L401.93,360.63 L403.73,360.34 L405.53,360.05 L407.35,359.76 L409.16,359.47 L410.99,359.18 L412.81,358.89 L414.65,358.60 L416.49,358.31 L418.33,358.01 L420.18,357.72 L422.04,357.43 L423.90,357.14 L425.77,356.85 L427.64,356.56 L429.52,356.27 L431.41,355.98 L433.30,355.69 L435.19,355.40 L437.09,355.11 L439.00,354.81 L440.91,354.52 L442.83,354.23 L444.75,353.94 L446.68,353.65 L448.62,353.36 L450.56,353.07 L452.50,352.78 L454.45,352.49 L456.41,352.20 L458.37,351.91 L460.34,351.62 L462.31,351.32 L464.29,351.03 L466.28,350.74 L468.27,350.45 L470.27,350.16 L472.27,349.87 L474.27,349.58 L476.29,349.29 L478.30,349.00 L480.33,348.71 L482.36,348.42 L484.39,348.12 L486.43,347.83 L488.48,347.54 L490.53,347.25 L492.59,346.96 L494.65,346.67 L496.72,346.38 L498.79,346.09 L500.87,345.80 L502.96,345.51 L505.05,345.22 L507.15,344.92 L509.25,344.63 L511.36,344.34 L513.47,344.05 L515.59,343.76 L517.71,343.47 L519.84,343.18 L521.98,342.89 L524.12,342.60 L526.27,342.31 L528.42,342.02 L530.58,341.72 L532.74,341.43 L534.91,341.14 L537.08,340.85 L539.26,340.56 L541.45,340.27 L543.64,339.98 L545.84,339.69 L548.04,339.40 L550.25,339.11 L552.46,338.82 L554.68,338.52 L556.91,338.23 L559.14,337.94 L561.37,337.65 L563.61,337.36 L565.86,337.07 L568.11,336.78 L570.37,336.49 L572.64,336.20 L574.91,335.91 L577.18,335.62 L579.46,335.33 L581.75,335.03 L584.04,334.74 L586.34,334.45 L588.64,334.16 L590.95,333.87 L593.26,333.58 L595.58,333.29 L597.91,333.00 L600.24,332.71 L602.58,332.42 L604.92,332.13 L607.27,331.83 L609.62,331.54 L611.98,331.25 L614.34,330.96 L616.71,330.67 L619.09,330.38 L621.47,330.09 L623.86,329.80 L626.25,329.51 L628.65,329.22 L631.05,328.93 L633.46,328.63 L635.87,328.34 L638.29,328.05 L640.72,327.76 L643.15,327.47 L645.59,327.18 L648.03,326.89 L650.48,326.60 L652.93,326.31 L655.39,326.02 L657.86,325.73 L660.33,325.43 L662.80,325.14 L665.29,324.85 L667.77,324.56 L670.27,324.27 L672.76,323.98 L675.27,323.69 L677.78,323.40 L680.29,323.11 L682.81,322.82 L685.34,322.53 L687.87,322.23 L690.41,321.94 L692.95,321.65 L695.50,321.36 L698.06,321.07 L700.62,320.78 L703.18,320.49 L705.75,320.20 L708.33,319.91 L710.91,319.62 L713.50,319.33 L716.09,319.04 L718.69,318.74 L721.30,318.45 L723.91,318.16 L726.52,317.87 L729.14,317.58 L731.77,317.29 L734.40,317.00 L737.04,316.71 L739.68,316.42 L742.33,316.13 L744.99,315.84 L747.65,315.54 L750.31,315.25 L752.99,314.96 L755.66,314.67 L758.35,314.38 L761.03,314.09 L763.73,313.80 L766.43,313.51 L769.13,313.22 L771.84,312.93 L774.56,312.64 L777.28,312.34 L780.01,312.05 L782.74,311.76 L785.48,311.47 L788.22,311.18 L790.97,310.89 L793.73,310.60 L796.49,310.31 L799.26,310.02 L802.03,309.73 L804.81,309.44 L807.59,309.14 L810.38,308.85" stroke="#ff8000" stroke-width="4.0" stroke-dasharray="11 17.365" stroke-dashoffset="1.5"/>
<path d="M112.49,454.30 L112.49,454.11 L112.50,453.92 L112.51,453.73 L112.53,453.54 L112.56,453.34 L112.59,453.15 L112.62,452.96 L112.66,452.77 L112.71,452.58 L112.76,452.39 L112.82,452.20 L112.88,452.01 L112.95,451.82 L113.02,451.62 L113.10,451.43 L113.18,451.24 L113.27,451.05 L113.37,450.86 L113.47,450.67 L113.57,450.48 L113.68,450.29 L113.80,450.09 L113.92,449.90 L114.05,449.71 L114.18,449.52 L114.32,449.33 L114.47,449.14 L114.61,448.95 L114.77,448.76 L114.93,448.57 L115.09,448.37 L115.27,448.18 L115.44,447.99 L115.62,447.80 L115.81,447.61 L116.00,447.42 L116.20,447.23 L116.40,447.04 L116.61,446.85 L116.83,446.65 L117.05,446.46 L117.27,446.27 L117.50,446.08 L117.74,445.89 L117.98,445.70 L118.23,445.51 L118.48,445.32 L118.74,445.12 L119.00,444.93 L119.27,444.74 L119.54,444.55 L119.82,444.36 L120.11,444.17 L120.40,443.98 L120.69,443.79 L120.99,443.60 L121.30,443.40 L121.61,443.21 L121.93,443.02 L122.25,442.83 L122.58,442.64 L122.91,442.45 L123.25,442.26 L123.60,442.07 L123.95,441.88 L124.30,441.68 L124.66,441.49 L125.03,441.30 L125.40,441.11 L125.78,440.92 L126.16,440.73 L126.55,440.54 L126.94,440.35 L127.34,440.15 L127.74,439.96 L128.15,439.77 L128.57,439.58 L128.99,439.39 L129.41,439.20 L129.85,439.01 L130.28,438.82 L130.72,438.63 L131.17,438.43 L131.62,438.24 L132.08,438.05 L132.55,437.86 L133.02,437.67 L133.49,437.48 L133.97,437.29 L134.46,437.10 L134.95,436.91 L135.44,436.71 L135.95,436.52 L136.45,436.33 L136.97,436.14 L137.48,435.95 L138.01,435.76 L138.54,435.57 L139.07,435.38 L139.61,435.19 L140.15,434.99 L140.71,434.80 L141.26,434.61 L141.82,434.42 L142.39,434.23 L142.96,434.04 L143.54,433.85 L144.12,433.66 L144.71,433.46 L145.30,433.27 L145.90,433.08 L146.51,432.89 L147.12,432.70 L147.74,432.51 L148.36,432.32 L148.98,432.13 L149.61,431.94 L150.25,431.74 L150.89,431.55 L151.54,431.36 L152.20,431.17 L152.86,430.98 L153.52,430.79 L154.19,430.60 L154.87,430.41 L155.55,430.22 L156.23,430.02 L156.92,429.83 L157.62,429.64 L158.32,429.45 L159.03,429.26 L159.74,429.07 L160.46,428.88 L161.19,428.69 L161.92,428.49 L162.65,428.30 L163.39,428.11 L164.14,427.92 L164.89,427.73 L165.65,427.54 L166.41,427.35 L167.18,427.16 L167.95,426.97 L168.73,426.77 L169.51,426.58 L170.30,426.39 L171.09,426.20 L171.89,426.01 L172.70,425.82 L173.51,425.63 L174.33,425.44 L175.15,425.25 L175.98,425.05 L176.81,424.86 L177.65,424.67 L178.49,424.48 L179.34,424.29 L180.19,424.10 L181.05,423.91 L181.92,423.72 L182.79,423.52 L183.67,423.33 L184.55,423.14 L185.43,422.95 L186.33,422.76 L187.22,422.57 L188.13,422.38 L189.04,422.19 L189.95,422.00 L190.87,421.80 L191.79,421.61 L192.72,421.42 L193.66,421.23 L194.60,421.04 L195.55,420.85 L196.50,420.66 L197.46,420.47 L198.42,420.28 L199.39,420.08 L200.36,419.89 L201.34,419.70 L202.32,419.51 L203.31,419.32 L204.31,419.13 L205.31,418.94 L206.32,418.75 L207.33,418.56 L208.35,418.36 L209.37,418.17 L210.40,417.98 L211.43,417.79 L212.47,417.60 L213.51,417.41 L214.56,417.22 L215.62,417.03 L216.68,416.83 L217.74,416.64 L218.81,416.45 L219.89,416.26 L220.97,416.07 L222.06,415.88 L223.15,415.69 L224.25,415.50 L225.36,415.31 L226.47,415.11 L227.58,414.92 L228.70,414.73 L229.83,414.54 L230.96,414.35 L232.09,414.16 L233.24,413.97 L234.38,413.78 L235.54,413.59 L236.69,413.39 L237.86,413.20 L239.03,413.01 L240.20,412.82 L241.38,412.63 L242.56,412.44 L243.76,412.25 L244.95,412.06 L246.15,411.86 L247.36,411.67 L248.57,411.48 L249.79,411.29 L251.01,411.10 L252.24,410.91 L253.48,410.72 L254.72,410.53 L255.96,410.34 L257.21,410.14 L258.47,409.95 L259.73,409.76 L260.99,409.57 L262.27,409.38 L263.54,409.19 L264.83,409.00 L266.11,408.81 L267.41,408.62 L268.71,408.42 L270.01,408.23 L271.32,408.04 L272.64,407.85 L273.96,407.66 L275.28,407.47 L276.62,407.28 L277.95,407.09 L279.30,406.89 L280.64,406.70 L282.00,406.51 L283.36,406.32 L284.72,406.13 L286.09,405.94 L287.46,405.75 L288.84,405.56 L290.23,405.37 L291.62,405.17 L293.02,404.98 L294.42,404.79 L295.83,404.60 L297.24,404.41 L298.66,404.22 L300.08,404.03 L301.51,403.84 L302.95,403.65 L304.39,403.45 L305.83,403.26 L307.28,403.07 L308.74,402.88 L310.20,402.69 L311.67,402.50 L313.14,402.31 L314.62,402.12 L316.10,401.92 L317.59,401.73 L319.09,401.54 L320.59,401.35 L322.09,401.16 L323.60,400.97 L325.12,400.78 L326.64,400.59 L328.17,400.40 L329.70,400.20 L331.24,400.01 L332.78,399.82 L334.33,399.63 L335.88,399.44 L337.44,399.25 L339.01,399.06 L340.58,398.87 L342.15,398.68 L343.74,398.48 L345.32,398.29 L346.91,398.10 L348.51,397.91 L350.11,397.72 L351.72,397.53 L353.34,397.34 L354.96,397.15 L356.58,396.96 L358.21,396.76 L359.85,396.57 L361.49,396.38 L363.13,396.19 L364.78,396.00 L366.44,395.81 L368.10,395.62 L369.77,395.43 L371.45,395.23 L373.12,395.04 L374.81,394.85 L376.50,394.66 L378.19,394.47 L379.89,394.28 L381.60,394.09 L383.31,393.90 L385.03,393.71 L386.75,393.51 L388.48,393.32 L390.21,393.13 L391.95,392.94 L393.69,392.75 L395.44,392.56 L397.20,392.37 L398.96,392.18 L400.72,391.99 L402.49,391.79 L404.27,391.60 L406.05,391.41 L407.84,391.22 L409.63,391.03 L411.43,390.84 L413.23,390.65 L415.04,390.46 L416.86,390.26 L418.68,390.07 L420.50,389.88 L422.33,389.69 L424.17,389.50 L426.01,389.31 L427.86,389.12 L429.71,388.93 L431.57,388.74 L433.43,388.54 L435.30,388.35 L437.17,388.16 L439.05,387.97 L440.94,387.78 L442.83,387.59 L444.72,387.40 L446.63,387.21 L448.53,387.02 L450.44,386.82 L452.36,386.63 L454.29,386.44 L456.21,386.25 L458.15,386.06 L460.09,385.87 L462.03,385.68 L463.98,385.49 L465.94,385.29 L467.90,385.10 L469.86,384.91 L471.84,384.72 L473.81,384.53 L475.80,384.34 L477.78,384.15 L479.78,383.96 L481.78,383.77 L483.78,383.57 L485.79,383.38 L487.80,383.19 L489.83,383.00 L491.85,382.81 L493.88,382.62 L495.92,382.43 L497.96,382.24 L500.01,382.05 L502.06,381.85 L504.12,381.66 L506.18,381.47 L508.25,381.28 L510.33,381.09 L512.41,380.90 L514.49,380.71 L516.59,380.52 L518.68,380.33 L520.78,380.13 L522.89,379.94 L525.00,379.75 L527.12,379.56 L529.25,379.37 L531.38,379.18 L533.51,378.99 L535.65,378.80 L537.79,378.60 L539.95,378.41 L542.10,378.22 L544.26,378.03 L546.43,377.84 L548.60,377.65 L550.78,377.46 L552.96,377.27 L555.15,377.08 L557.35,376.88 L559.55,376.69 L561.75,376.50 L563.96,376.31 L566.18,376.12 L568.40,375.93 L570.63,375.74 L572.86,375.55 L575.09,375.36 L577.34,375.16 L579.59,374.97 L581.84,374.78 L584.10,374.59 L586.36,374.40 L588.63,374.21 L590.91,374.02 L593.19,373.83 L595.48,373.63 L597.77,373.44 L600.07,373.25 L602.37,373.06 L604.68,372.87 L606.99,372.68 L609.31,372.49 L611.63,372.30 L613.96,372.11 L616.30,371.91 L618.64,371.72 L620.98,371.53 L623.34,371.34 L625.69,371.15 L628.05,370.96 L630.42,370.77 L632.80,370.58 L635.17,370.39 L637.56,370.19 L639.95,370.00 L642.34,369.81 L644.74,369.62 L647.15,369.43 L649.56,369.24 L651.98,369.05 L654.40,368.86 L656.82,368.66 L659.26,368.47 L661.70,368.28 L664.14,368.09 L666.59,367.90 L669.04,367.71 L671.50,367.52 L673.97,367.33 L676.44,367.14 L678.92,366.94 L681.40,366.75 L683.88,366.56 L686.38,366.37 L688.87,366.18 L691.38,365.99 L693.89,365.80 L696.40,365.61 L698.92,365.42 L701.45,365.22 L703.98,365.03 L706.51,364.84 L709.05,364.65 L711.60,364.46 L714.15,364.27 L716.71,364.08 L719.27,363.89 L721.84,363.70 L724.41,363.50 L726.99,363.31 L729.58,363.12 L732.17,362.93 L734.76,362.74 L737.36,362.55 L739.97,362.36 L742.58,362.17 L745.20,361.97 L747.82,361.78 L750.45,361.59 L753.08,361.40 L755.72,361.21 L758.37,361.02 L761.02,360.83 L763.67,360.64 L766.33,360.45 L769.00,360.25 L771.67,360.06 L774.35,359.87 L777.03,359.68 L779.72,359.49 L782.41,359.30 L785.11,359.11 L787.81,358.92 L790.52,358.73" stroke="#ff8000" stroke-width="4.0" stroke-dasharray="11 17.365" stroke-dashoffset="1.5"/>
<circle cx="108.01" cy="454.30" r="6.9" fill="#fff" stroke="#ff8000" stroke-width="3.9"/>
<circle cx="143.58" cy="372.90" r="6.9" fill="#fff" stroke="#ff8000" stroke-width="3.9"/>
<circle cx="187.79" cy="326.25" r="6.9" fill="#fff" stroke="#ff8000" stroke-width="3.9"/>
<circle cx="276.43" cy="264.27" r="6.9" fill="#fff" stroke="#ff8000" stroke-width="3.9"/>
<circle cx="453.70" cy="179.74" r="6.9" fill="#fff" stroke="#ff8000" stroke-width="3.9"/>
<rect x="94.00" y="448.21" width="10.3" height="10.3" fill="none" stroke="#ff0000" stroke-width="1.55"/>
<rect x="138.43" y="367.75" width="10.3" height="10.3" fill="none" stroke="#ff0000" stroke-width="1.55"/>
<rect x="182.64" y="326.74" width="10.3" height="10.3" fill="none" stroke="#ff0000" stroke-width="1.55"/>
<rect x="271.28" y="268.82" width="10.3" height="10.3" fill="none" stroke="#ff0000" stroke-width="1.55"/>
<rect x="448.55" y="184.60" width="10.3" height="10.3" fill="none" stroke="#ff0000" stroke-width="1.55"/>
</g>
<path d="M99.15,454.3v-8.5M276.43,454.3v-8.5M453.70,454.3v-8.5M630.98,454.3v-8.5M808.25,454.3v-8.5M99.15,454.30h8.5M99.15,391.69h8.5M99.15,329.07h8.5M99.15,266.46h8.5M99.15,203.84h8.5M99.15,141.23h8.5M99.15,78.61h8.5M99.15,16.00h8.5" stroke="#666666" stroke-width="1.3" fill="none"/>
<rect x="99.15" y="16.0" width="709.1" height="438.3" fill="none" stroke="#666666" stroke-width="1.4"/>
<g transform="translate(98.35,486.65) scale(1.0,1.1)"><text font-size="26.67" text-anchor="middle" fill="#666666">0</text></g>
<g transform="translate(276.03,486.65) scale(1.03,1.1)"><text font-size="26.67" text-anchor="middle" fill="#666666">0.1</text><rect x="4.10" y="-3.1" width="6.32" height="4.0" fill="#fff"/><rect x="12.77" y="-3.1" width="5.26" height="4.0" fill="#fff"/></g>
<g transform="translate(453.30,486.65) scale(1.03,1.1)"><text font-size="26.67" text-anchor="middle" fill="#666666">0.2</text></g>
<g transform="translate(630.58,486.65) scale(1.03,1.1)"><text font-size="26.67" text-anchor="middle" fill="#666666">0.3</text></g>
<g transform="translate(807.85,486.65) scale(1.03,1.1)"><text font-size="26.67" text-anchor="middle" fill="#666666">0.4</text></g>
<g transform="translate(91.0,463.80) scale(1,1.1)"><text font-size="26.67" text-anchor="end" fill="#666666">0</text></g>
<g transform="translate(91.0,401.19) scale(1,1.1)"><text font-size="26.67" text-anchor="end" fill="#666666">2</text></g>
<g transform="translate(91.0,338.57) scale(1,1.1)"><text font-size="26.67" text-anchor="end" fill="#666666">4</text></g>
<g transform="translate(91.0,275.96) scale(1,1.1)"><text font-size="26.67" text-anchor="end" fill="#666666">6</text></g>
<g transform="translate(91.0,213.34) scale(1,1.1)"><text font-size="26.67" text-anchor="end" fill="#666666">8</text></g>
<g transform="translate(92.4,150.73) scale(1,1.1)"><text font-size="26.67" text-anchor="end" fill="#666666">10</text><rect x="-29.27" y="-3.1" width="6.32" height="4.0" fill="#fff"/><rect x="-20.60" y="-3.1" width="5.26" height="4.0" fill="#fff"/></g>
<g transform="translate(92.4,88.11) scale(1,1.1)"><text font-size="26.67" text-anchor="end" fill="#666666">12</text><rect x="-29.27" y="-3.1" width="6.32" height="4.0" fill="#fff"/><rect x="-20.60" y="-3.1" width="5.26" height="4.0" fill="#fff"/></g>
<g transform="translate(92.4,25.50) scale(1,1.1)"><text font-size="26.67" text-anchor="end" fill="#666666">14</text><rect x="-29.27" y="-3.1" width="6.32" height="4.0" fill="#fff"/><rect x="-20.60" y="-3.1" width="5.26" height="4.0" fill="#fff"/></g>
<path d="M334.4,170.1L418.2,399" stroke="#000" stroke-width="2.6" fill="none"/>
<path d="M427.6,424.6L408.7,399.6L418.4,399.6L425.9,393.2Z" fill="#000"/>
<text class="s" transform="translate(100.2,402.8) scale(1.09,1)" font-size="38.5" fill="#000">B</text><text class="s" transform="translate(127.2,407.8) scale(1.0,1)" font-size="25.8" fill="#000">1</text>
<text class="s" transform="translate(124.4,345.8) scale(1.09,1)" font-size="38.5" stroke="#fff" stroke-width="0.3" fill="#000">B</text><text class="s" transform="translate(151.3,350.8) scale(1.0,1)" font-size="25.8" stroke="#fff" stroke-width="0.3" fill="#000">2</text>
<text class="s" transform="translate(145.2,311.1) scale(1.09,1)" font-size="38.5" stroke="#fff" stroke-width="0.3" fill="#000">B</text><text class="s" transform="translate(172.3,316.9) scale(1.0,1)" font-size="25.8" stroke="#fff" stroke-width="0.3" fill="#000">3</text>
<text class="s" transform="translate(234.1,249.5) scale(1.09,1)" font-size="38.5" stroke="#fff" stroke-width="0.3" fill="#000">B</text><text class="s" transform="translate(260.6,255.1) scale(1.0,1)" font-size="25.8" stroke="#fff" stroke-width="0.3" fill="#000">4</text>
<text class="s" transform="translate(411.2,164.5) scale(1.09,1)" font-size="38.5" stroke="#fff" stroke-width="0.3" fill="#000">B</text><text class="s" transform="translate(438.0,170.4) scale(1.0,1)" font-size="25.8" stroke="#fff" stroke-width="0.3" fill="#000">5</text>
<text class="s" transform="translate(355.3,184.7) scale(1.33,1)" font-size="33" font-style="italic" stroke="#fff" stroke-width="0.6" fill="#000">n</text>
<text class="s" transform="translate(436.6,540.1) scale(1.36,1)" font-size="32.5" font-style="italic" stroke="#fff" stroke-width="0.45" fill="#000">u</text>
<text class="s" transform="translate(457.2,549.6) scale(1.0,1)" font-size="25.8" stroke="#fff" stroke-width="0.3" fill="#000">2</text>
<path d="M463.40,512.90L464.40,518.22L469.77,517.53L465.02,520.13L467.34,525.02L463.40,521.30L459.46,525.02L461.78,520.13L457.03,517.53L462.40,518.22Z" fill="#000" stroke="#000" stroke-width="0.5" stroke-linejoin="round"/>
<g transform="translate(34.0,285.3) rotate(-90)"><text class="s" transform="translate(-0.6,0) scale(1.035,1)" font-size="36" fill="#000">sup</text><path d="M61.8,-28.4V7.7M95.4,-28.4V7.7" stroke="#000" stroke-width="1.5" fill="none"/><text class="s" transform="translate(64.2,0) scale(1.2,1)" font-size="37" font-style="italic" fill="#000" stroke="#fff" stroke-width="0.6">ω</text></g>
</svg></body></html>
